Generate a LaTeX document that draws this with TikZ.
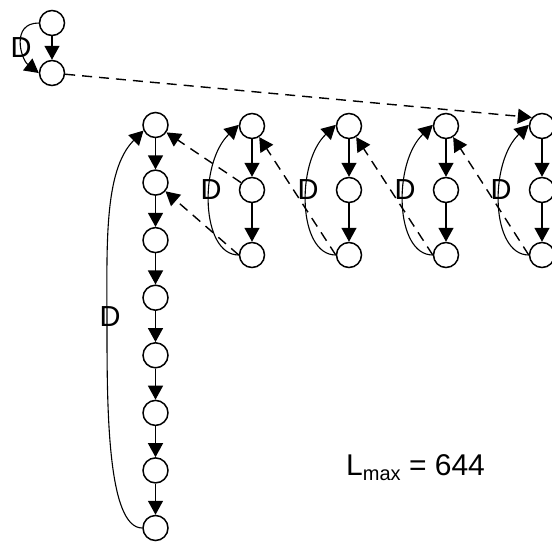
\documentclass[tikz,border=0pt]{standalone}
\usepackage{fontspec}
\setmainfont{Liberation Sans}
\usetikzlibrary{arrows.meta,calc}
\begin{document}
\begin{tikzpicture}[x=1pt,y=-1pt,
  vert/.style={circle,draw,fill=white,line width=1.5pt,minimum size=25pt,inner sep=0pt},
  tip/.style={-{Triangle[length=14pt,width=15pt]}},
  flow/.style={line width=1.5pt,tip},
  loopc/.style={line width=1.1pt,tip},
  jump/.style={line width=1.4pt,dash pattern=on 10pt off 7pt,tip},
  dlab/.style={inner sep=0pt,font=\fontsize{29}{29}\selectfont}]
\useasboundingbox (0,0) rectangle (552,542);
% top pair
\node[vert] (A) at (52,23) {};
\node[vert] (B) at (52,73) {};
\node[dlab] (d0) at (21,48) {D};
% main column
\foreach \i/\y in {1/125,2/182.6,3/240.1,4/297.7,5/355.3,6/412.9,7/470.4,8/528}
  \node[vert] (m\i) at (155.5,\y) {};
\node[dlab] (dm) at (110,317) {D};
% small columns
\foreach \k/\x in {1/252,2/349,3/446,4/542}{
  \node[vert] (top\k) at (\x,126) {};
  \node[vert] (mid\k) at (\x,190) {};
  \node[vert] (bot\k) at (\x,255) {};
  \node[dlab] (d\k) at (\x-41,190) {D};
}
% L_max
\node[inner sep=0pt,anchor=base west,font=\fontsize{30}{30}\selectfont] (lmax) at (346,475)
  {L\raisebox{-5pt}{\fontsize{20}{20}\selectfont max} = 644};
% solid arrows
\draw[flow] (A) -- (B);
\foreach \i [evaluate=\i as \j using int(\i+1)] in {1,...,7}
  \draw[flow] (m\i) -- (m\j);
\foreach \k in {1,2,3,4}{
  \draw[flow] (top\k) -- (mid\k);
  \draw[flow] (mid\k) -- (bot\k);
  \draw[loopc] (bot\k.west) .. controls +(-38,0) and +(-40,38) .. (top\k.175);
}
% loops
\draw[loopc] (A.west) .. controls +(-28,0) and +(-18,-14) .. (B.west);
\draw[loopc] (m8.west) .. controls +(-35,0) and +(0,80) .. ($(m1)!0.5!(m8)+(-48.5,0)$)
  .. controls +(0,-80) and +(-40,40) .. (m1.205);
% dashed arrows
\draw[jump] (B) -- (top4.140);
\draw[jump] (mid1) -- (m1);
\draw[jump] (bot1.west) -- (m2);
\draw[jump] (bot2.west) -- (top1);
\draw[jump] (bot3.west) -- (top2);
\draw[jump] (bot4.west) -- (top3);
\end{tikzpicture}
\end{document}
